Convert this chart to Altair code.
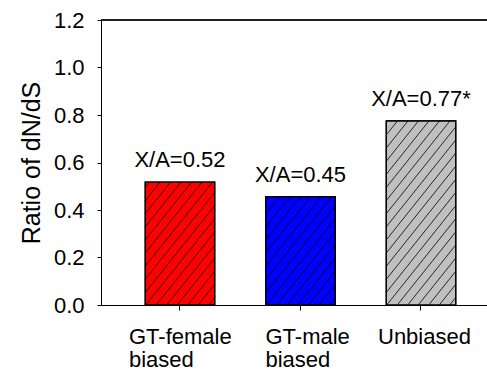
import altair as alt
import pandas as pd

categories = ["GT-female biased", "GT-male biased", "Unbiased"]
ratios = [0.518, 0.456, 0.775]
annotations = ["X/A=0.52", "X/A=0.45", "X/A=0.77*"]
bar_colors = ["#FF0000", "#0000FF", "#C0C0C0"]
y_ticks = [0.0, 0.2, 0.4, 0.6, 0.8, 1.0, 1.2]

df = pd.DataFrame({"group": categories, "ratio": ratios, "note": annotations})

FONT = "Liberation Sans"
W, H = 386, 285
YMAX = 1.2
PX = H / YMAX          # pixels per data unit on y
HALF = 34.75           # half bar width in px
STEP = 10.5            # hatch spacing in px
SLOPE = 1.25           # hatch rise per run

xscale = alt.Scale(domain=categories, paddingInner=0.423, paddingOuter=0.313, align=0.586)
yscale = alt.Scale(domain=[0, YMAX], nice=False)

xaxis = alt.Axis(
    title=None, labelAngle=0, labelFontSize=22, labelFont=FONT, labelColor="black",
    labelExpr="datum.value == 'Unbiased' ? 'Unbiased' : split(datum.value, ' ')",
    labelAlign="left", labelBaseline="top", labelLineHeight=23,
    labelOffset={"condition": [
        {"test": "datum.value == 'GT-female biased'", "value": -51},
        {"test": "datum.value == 'GT-male biased'", "value": -35}], "value": -43},
    labelPadding=16, tickSize=5, tickColor="black", domainColor="black",
    grid=False,
)
yaxis = alt.Axis(
    title="Ratio of dN/dS", titleFontSize=25, titleFont=FONT, titleFontWeight="normal",
    titleColor="black", titlePadding=9,
    values=y_ticks, format=".1f", labelFontSize=22, labelFont=FONT, labelColor="black",
    labelPadding=13, tickSize=4, tickColor="black", domainColor="black", grid=False,
)

x_enc = alt.X("group:N", scale=xscale, sort=categories, axis=xaxis)

bars = alt.Chart(df).mark_bar(stroke="black", strokeWidth=1.2).encode(
    x=x_enc,
    y=alt.Y("ratio:Q", scale=yscale, axis=yaxis),
    color=alt.Color("group:N", scale=alt.Scale(domain=categories, range=bar_colors), legend=None),
)

# diagonal hatching inside each bar, offsets measured from the band start
hatch = (
    alt.Chart(df)
    .transform_calculate(htop=f"datum.ratio * {PX}")
    .transform_calculate(cs=f"sequence({-HALF - 220}, {HALF + 1}, {STEP})")
    .transform_flatten(["cs"], as_=["c"])
    .transform_calculate(
        h1=f"max(0, {SLOPE} * ({-HALF} - datum.c))",
        h2=f"min(datum.htop, {SLOPE} * ({HALF} - datum.c))",
    )
    .transform_filter("datum.h2 > datum.h1 + 0.5")
    .transform_calculate(ends="[0, 1]")
    .transform_flatten(["ends"], as_=["e"])
    .transform_calculate(hh="datum.e == 0 ? datum.h1 : datum.h2")
    .transform_calculate(xoff=f"datum.c + datum.hh / {SLOPE} + {HALF}", yv=f"datum.hh / {PX}",
                         seg="datum.group + '_' + datum.c")
    .mark_line(color="black", strokeWidth=0.8)
    .encode(
        x=x_enc,
        xOffset=alt.XOffset("xoff:Q", scale=None),
        y=alt.Y("yv:Q", scale=yscale, axis=yaxis),
        detail="seg:N",
    )
)

outline = alt.Chart(df).mark_bar(stroke="black", strokeWidth=1.2, fillOpacity=0).encode(
    x=x_enc,
    y=alt.Y("ratio:Q", scale=yscale, axis=yaxis),
)

notes = alt.Chart(df).mark_text(
    baseline="alphabetic", dy=-15, fontSize=22, font=FONT, color="black"
).encode(
    x=x_enc,
    y=alt.Y("ratio:Q", scale=yscale, axis=yaxis),
    text="note:N",
)

top_line = alt.Chart(df).mark_rule(color="black", strokeWidth=1).encode(
    y=alt.YDatum(YMAX, scale=yscale, axis=yaxis),
)

chart = (
    alt.layer(bars, hatch, outline, notes, top_line)
    .properties(
        width=W, height=H,
        autosize=alt.AutoSizeParams(type="none"),
        padding={"left": 101, "top": 20, "right": 0, "bottom": 67},
        background="white",
    )
    .configure_view(stroke=None)
)

chart.save("out.html", embed_options={"renderer": "svg", "actions": False})
